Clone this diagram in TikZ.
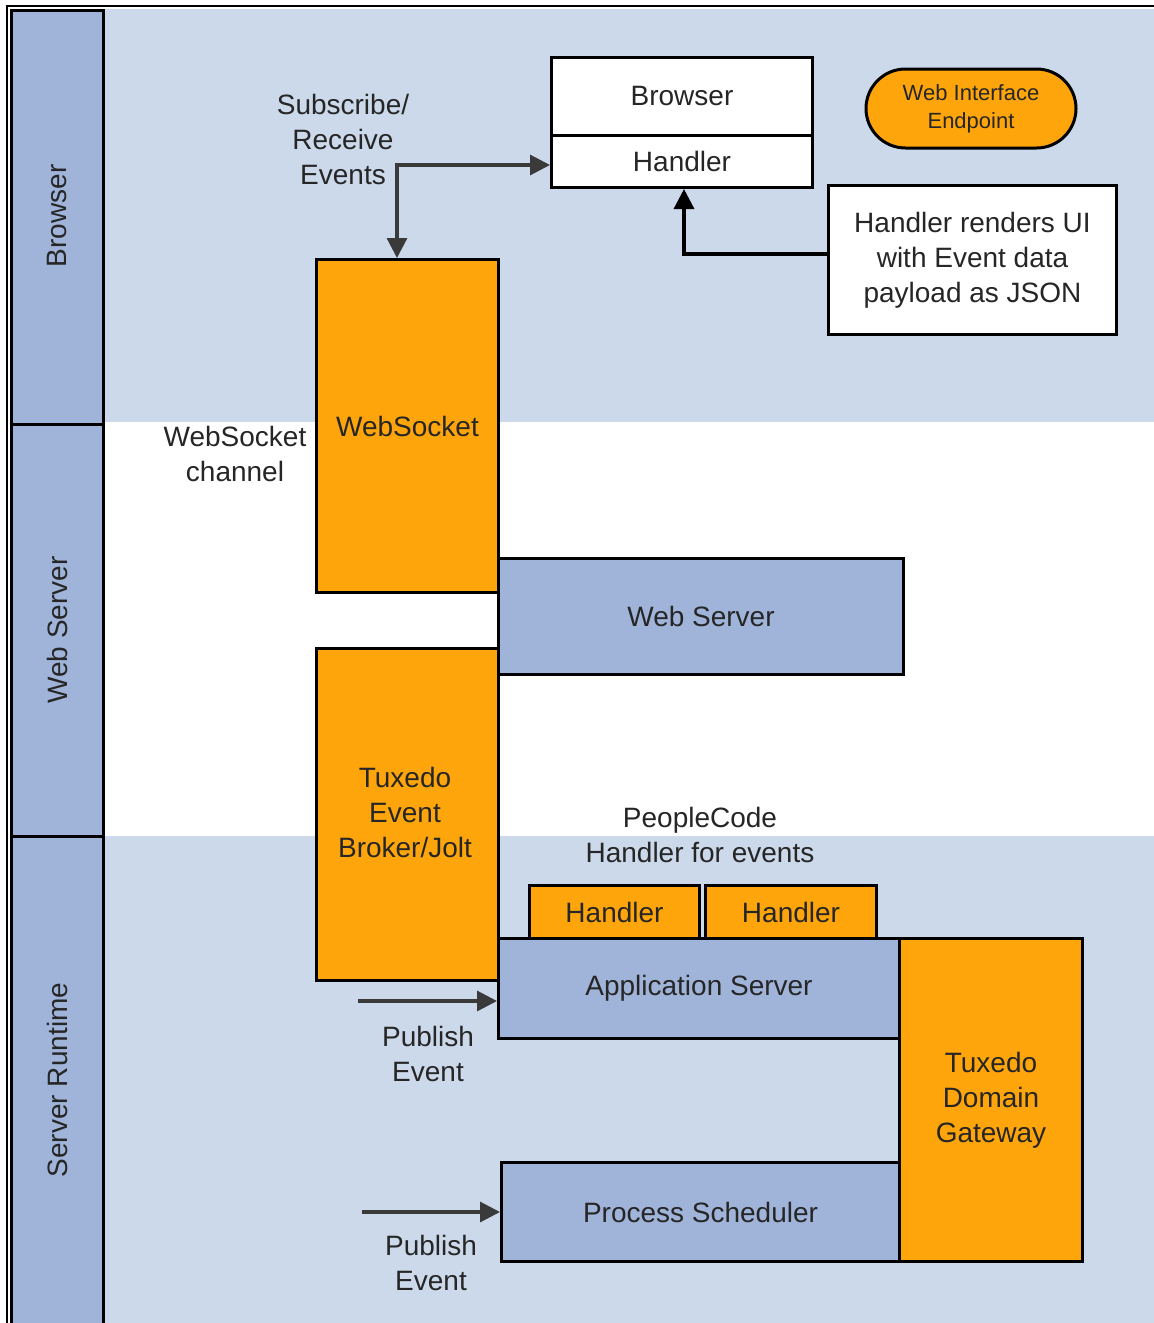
\documentclass[tikz,border=0pt]{standalone}
\usepackage{fontspec}
\setmainfont{Liberation Sans}
\usetikzlibrary{arrows.meta,calc,shapes.misc}
\definecolor{lanebg}{HTML}{CCD9EB}
\definecolor{laneblue}{HTML}{A0B4DA}
\definecolor{orng}{HTML}{FFA50C}
\definecolor{txt}{HTML}{262626}
\definecolor{arrgray}{HTML}{3A3A3A}
\begin{document}
\begin{tikzpicture}[x=1pt,y=-1pt,
  every node/.style={text=txt, font=\fontsize{28}{35}\selectfont, align=center},
  blk/.style={draw=black, line width=3pt, inner sep=0pt, anchor=north west},
  whitebox/.style={blk, fill=white},
  orangebox/.style={blk, fill=orng},
  bluebox/.style={blk, fill=laneblue},
  lanecell/.style={draw=black, line width=3pt, fill=laneblue},
  lbl/.style={inner sep=0pt},
  arr/.style={draw=arrgray, line width=3.2pt, -{Triangle[length=20pt,width=20pt]}},
  dblarr/.style={draw=arrgray, line width=3.2pt, {Triangle[length=20pt,width=20pt]}-{Triangle[length=20pt,width=20pt]}},
  blackarr/.style={draw=black, line width=3.2pt, -{Triangle[length=20pt,width=20pt]}}
]
\useasboundingbox (0,0) rectangle (1154,1323);
% backgrounds
\fill[white] (0,0) rectangle (1154,1323);
\fill[lanebg] (103,9) rectangle (1154,422);
\fill[lanebg] (103,836) rectangle (1154,1323);
% outer frame
\draw[black, line width=1.5pt] (7,1323) -- (7,6) -- (1154,6);
% lane header strip
\draw[lanecell] (11,10) rectangle (103,424);
\draw[lanecell] (11,424) rectangle (103,836);
\draw[lanecell] (11,836) -- (11,1326) -- (103,1326) -- (103,836) -- cycle;
\node[lbl, rotate=90] (lb) at (57,216) {Browser};
\node[lbl, rotate=90] (lw) at (57,630) {Web Server};
\node[lbl, rotate=90] (lr) at (57,1080) {Server Runtime};

% browser lane
\node[whitebox, minimum width=261pt, minimum height=78pt] (br) at (550,56) {Browser};
\node[whitebox, minimum width=261pt, minimum height=52pt] (hd) at (550,134) {Handler};
\node[draw=black, line width=3pt, fill=orng, rounded rectangle, inner sep=0pt,
      minimum width=210pt, minimum height=79pt,
      font=\fontsize{22}{28}\selectfont] (ep) at (971,108.5) {Web Interface\\Endpoint};
\node[whitebox, minimum width=288pt, minimum height=149pt] (hr) at (827,184) {Handler renders UI\\with Event data\\payload as JSON};
\node[lbl] (sub) at (343,139) {Subscribe/\\Receive\\Events};

% middle
\node[bluebox, minimum width=405pt, minimum height=116pt] (wsv) at (497,557) {Web Server};
\node[orangebox, minimum width=182pt, minimum height=333pt] (ws) at (315,258) {WebSocket};
\node[lbl] (wsc) at (235,454) {WebSocket\\channel};
\node[orangebox, minimum width=182pt, minimum height=332pt] (teb) at (315,647) {};
\node[lbl] (tebl) at (405,812) {Tuxedo\\Event\\Broker/Jolt};

% server runtime
\node[lbl] (pc) at (700,834.5) {PeopleCode\\Handler for events};
\node[orangebox, minimum width=170pt, minimum height=53pt] (h1) at (528,884) {Handler};
\node[orangebox, minimum width=171pt, minimum height=53pt] (h2) at (704,884) {Handler};
\node[bluebox, minimum width=401pt, minimum height=100pt] (as) at (497,937) {Application Server};
\node[bluebox, minimum width=398pt, minimum height=99pt] (ps) at (500,1161) {Process Scheduler};
\node[orangebox, minimum width=183pt, minimum height=323pt] (tdg) at (898,937) {Tuxedo\\Domain\\Gateway};
\node[lbl] (pe1) at (428,1053.5) {Publish\\Event};
\node[lbl] (pe2) at (431,1262.5) {Publish\\Event};

% connectors
\coordinate (c1) at (397,165);
\draw[dblarr] (hd.west |- c1) -| (c1 |- ws.north);
\coordinate (c2) at (684,254);
\draw[blackarr] (hr.west |- c2) -| (c2 |- hd.south);
\coordinate (p1) at (358,1001);
\draw[arr] (p1) -- (p1 -| as.west);
\coordinate (p2) at (362,1212);
\draw[arr] (p2) -- (p2 -| ps.west);
\end{tikzpicture}
\end{document}
